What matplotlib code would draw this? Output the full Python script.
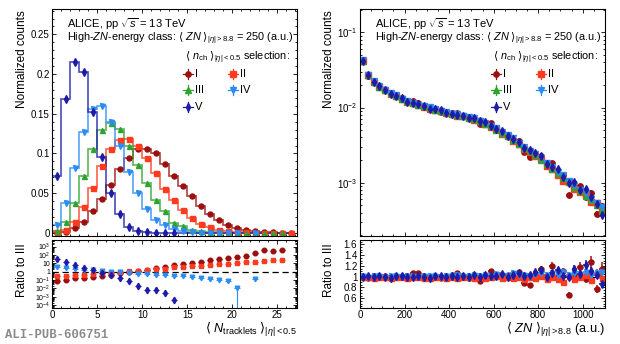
import numpy as np
import matplotlib
matplotlib.use("Agg")
import matplotlib.pyplot as plt
from matplotlib.ticker import MultipleLocator, FixedLocator, NullFormatter, LogLocator, FuncFormatter

plt.rcParams['font.family'] = ['Liberation Sans', 'DejaVu Sans']
plt.rcParams['mathtext.fontset'] = 'custom'
plt.rcParams['mathtext.rm'] = 'Liberation Sans'
plt.rcParams['mathtext.it'] = 'Liberation Sans:italic'
plt.rcParams['mathtext.bf'] = 'Liberation Sans:bold'
plt.rcParams['mathtext.sf'] = 'DejaVu Sans'

# ---------------- DATA: tracklet multiplicity (1 unit bins, 0..27) ----------------
mult_I = [0.0002, 0.0015, 0.006, 0.014, 0.027, 0.043, 0.060, 0.080, 0.094, 0.106,
          0.105, 0.100, 0.087, 0.072, 0.059, 0.046, 0.034, 0.0235, 0.0163, 0.010,
          0.0062, 0.0036, 0.002, 0.0011, 0.0006, 0.00035, 0.0002]
mult_II = [0.0007, 0.004, 0.014, 0.032, 0.056, 0.084, 0.105, 0.117, 0.118, 0.110,
           0.094, 0.075, 0.055, 0.041, 0.029, 0.0184, 0.0115, 0.0068, 0.0041, 0.00214,
           0.00115, 0.00058, 0.00021, 0.00006, 0.000049, 0.000028, 0.00002]
mult_III = [0.0025, 0.0135, 0.038, 0.072, 0.106, 0.130, 0.138, 0.131, 0.110, 0.086,
            0.063, 0.041, 0.027, 0.013, 0.008, 0.004, 0.00215, 0.00105, 0.00053, 0.00023,
            0.000103, 0.000043, 0.000013, 0.0000031, 0.0000021, 0.000001, 0.0]
mult_IV = [0.010, 0.037, 0.082, 0.127, 0.156, 0.160, 0.139, 0.109, 0.077, 0.050,
           0.030, 0.0165, 0.0095, 0.0042, 0.0022, 0.0009, 0.00038, 0.000148, 0.000059, 0.000018,
           0.000001, 0.0, 0.0000016, 0.0, 0.0, 0.0, 0.0]
mult_V = [0.072, 0.169, 0.215, 0.203, 0.152, 0.096, 0.050, 0.0235, 0.0075, 0.0018,
          0.00045, 0.00023, 0.00008, 0.000005, 0.0, 0.0, 0.0, 0.0, 0.0, 0.0,
          0.0, 0.0, 0.0, 0.0, 0.0, 0.0, 0.0]

# ---------------- DATA: ZN energy (25 a.u. bins, 0..1100) ----------------
zn_III = [0.042, 0.027, 0.022, 0.019, 0.0172, 0.0155, 0.0142, 0.0130, 0.0121, 0.0114, 0.0109,
          0.0104, 0.0099, 0.0094, 0.0090, 0.0086, 0.0082, 0.0079, 0.0076, 0.0073, 0.0070, 0.0066,
          0.0061, 0.0056, 0.0051, 0.0046, 0.0042, 0.0037, 0.0033, 0.0029, 0.0026, 0.0023, 0.0020,
          0.00175, 0.00152, 0.00133, 0.00116, 0.00101, 0.00088, 0.00077, 0.00067, 0.00058, 0.00050, 0.00043]
zn_ratio_I = [1.00, 0.98, 1.01, 0.99, 1.01, 1.00, 0.99, 1.02, 1.01, 1.06, 1.07,
              1.02, 0.99, 1.00, 0.97, 1.01, 1.03, 1.07, 1.00, 0.98, 1.02, 0.92,
              0.99, 1.10, 1.03, 1.01, 1.04, 0.97, 1.08, 0.88, 0.85, 1.05, 1.14,
              1.02, 1.20, 0.99, 1.10, 0.67, 1.04, 1.18, 0.96, 1.27, 0.77, 1.15]
zn_ratio_II = [0.99, 1.00, 0.98, 1.00, 0.99, 0.98, 1.00, 0.99, 0.98, 1.00, 0.99,
               0.98, 0.97, 0.99, 1.00, 0.98, 0.99, 0.98, 1.00, 0.99, 0.97, 1.00,
               0.98, 0.99, 1.01, 0.97, 0.99, 0.98, 1.00, 0.96, 0.99, 0.97, 1.02,
               0.95, 1.00, 0.96, 0.90, 1.01, 0.95, 0.99, 1.03, 0.94, 1.06, 0.97]
zn_ratio_IV = [1.01, 1.00, 1.02, 1.01, 1.00, 1.01, 1.02, 1.00, 1.01, 1.02, 1.00,
               1.01, 1.02, 1.01, 1.00, 1.02, 1.01, 1.03, 1.01, 1.02, 1.04, 1.01,
               1.03, 1.02, 1.05, 1.03, 1.02, 1.06, 1.03, 1.04, 1.02, 1.05, 1.07,
               1.03, 1.06, 1.04, 1.08, 1.03, 1.06, 1.05, 1.08, 1.04, 1.07, 1.09]
zn_ratio_V = [1.00, 1.01, 0.99, 1.01, 1.00, 0.98, 1.01, 1.02, 0.99, 1.00, 1.02,
              1.00, 0.98, 1.01, 1.02, 0.99, 1.01, 1.00, 1.02, 0.99, 1.03, 1.00,
              1.04, 1.01, 1.02, 1.05, 0.99, 1.03, 1.07, 1.01, 1.04, 1.08, 1.12,
              1.00, 1.06, 1.13, 1.02, 0.99, 1.15, 1.05, 1.22, 1.10, 1.04, 0.86]

labels = ["I", "II", "III", "IV", "V"]
colors = ["#9b0f0f", "#ff3b1f", "#2fa32f", "#2b8cf5", "#1c1ca8"]
markers = ["o", "s", "^", "v", "d"]
zn_relerr = [0.009, 0.006, 0.005, 0.006, 0.007]

TICK_FS = 7
LAB_FS = 8.5
W, H = 620, 344
# angle brackets drawn from DejaVu Sans (Liberation Sans has none)
LA = "$\\mathsf{\u27e8}$"
RA = "$\\mathsf{\u27e9}$"


def box(x0, y_top, x1, y_bot):
    return [x0 / W, 1 - y_bot / H, (x1 - x0) / W, (y_bot - y_top) / H]


def style(ax):
    ax.tick_params(which='both', direction='in', top=True, right=True,
                   labelsize=TICK_FS, width=0.6, pad=2)
    ax.tick_params(which='major', length=3.2)
    ax.tick_params(which='minor', length=1.7)
    for s in ax.spines.values():
        s.set_linewidth(0.8)


def legend_entry(ax, x, y, col, mk, lab):
    dx, dy = 0.02, 0.022
    ax.plot([x - dx, x + dx], [y, y], color=col, lw=0.9, transform=ax.transAxes)
    ax.plot([x, x], [y - dy, y + dy], color=col, lw=0.9, transform=ax.transAxes)
    ax.plot([x], [y], marker=mk, color=col, ms=3.8, transform=ax.transAxes)
    ax.text(x + 0.03, y, lab, transform=ax.transAxes, fontsize=8, va='center', ha='left')


def header(ax):
    ax.text(0.06, 0.934, r"ALICE, pp $\sqrt{s}$ = 13 TeV", transform=ax.transAxes,
            fontsize=8, va='center', ha='left')
    ax.text(0.06, 0.868, "High-$ZN$-energy class: " + LA + " $ZN$ " + RA + r"$_{|\eta|>8.8}$ = 250 (a.u.)",
            transform=ax.transAxes, fontsize=7.8, va='center', ha='left')
    ax.text(0.542, 0.784, LA + r" $n_{\rm ch}$ " + RA + r"$_{|\eta|<0.5}$ selection:",
            transform=ax.transAxes, fontsize=7.8, va='center', ha='left')
    pos = [(0.555, 0.714), (0.738, 0.714), (0.555, 0.643), (0.738, 0.643), (0.555, 0.568)]
    for (x, y), c, m, l in zip(pos, colors, markers, labels):
        legend_entry(ax, x, y, c, m, l)


fig = plt.figure(figsize=(W / 100, H / 100), dpi=100)
ax1 = fig.add_axes(box(52.3, 9, 297, 236))
ax1r = fig.add_axes(box(52.3, 240, 297, 308))
ax2 = fig.add_axes(box(360, 9, 605, 236))
ax2r = fig.add_axes(box(360, 240, 605, 308))

# ---------------- LEFT: multiplicity ----------------
mult = [mult_I, mult_II, mult_III, mult_IV, mult_V]
edges = np.arange(len(mult_III) + 1)
centers = edges[:-1] + 0.5
for vals, c, m in zip(mult, colors, markers):
    v = np.array(vals)
    ax1.stairs(v, edges, baseline=0, color=c, lw=1.2, alpha=0.8)
    ok = v > 0
    ax1.errorbar(centers[ok], v[ok], yerr=0.0025, fmt=m, color=c, ms=3.6,
                 elinewidth=0.8, capsize=0)
ax1.set_xlim(0, 27.2)
ax1.set_ylim(-0.004, 0.282)
ax1.xaxis.set_major_locator(MultipleLocator(5))
ax1.xaxis.set_minor_locator(MultipleLocator(1))
ax1.yaxis.set_major_locator(MultipleLocator(0.05))
ax1.yaxis.set_minor_locator(MultipleLocator(0.01))
ax1.yaxis.set_major_formatter(FuncFormatter(lambda v, p: f"{v:g}"))
ax1.xaxis.set_major_formatter(NullFormatter())
style(ax1)
header(ax1)

den = np.array(mult_III)
ax1r.axhline(1, color='black', lw=0.9, ls=(0, (5, 3)))
for idx in [0, 1, 3, 4]:
    v = np.array(mult[idx])
    ok = (v > 0) & (den > 0)
    r = v[ok] / den[ok]
    lo = r * 0.2
    hi = r * 0.2
    if idx == 3:
        k = np.where(centers[ok] == 20.5)[0]
        lo[k] = r[k] * 0.99999
    ax1r.errorbar(centers[ok], r, yerr=[lo, hi], xerr=0.35, fmt=markers[idx], color=colors[idx],
                  ms=3.3, elinewidth=0.8, capsize=0)
ax1r.set_yscale('log')
ax1r.set_xlim(0, 27.2)
ax1r.set_ylim(10 ** -4.35, 10 ** 3.78)
ax1r.yaxis.set_major_locator(FixedLocator([1e-4, 1e-3, 1e-2, 1e-1, 1, 10, 100, 1000]))
ax1r.yaxis.set_major_formatter(FuncFormatter(
    lambda v, p: {1: "1", 10: "10"}.get(round(v, 6), r"$10^{%d}$" % round(np.log10(v)))))
ax1r.yaxis.set_minor_locator(LogLocator(base=10, subs=np.arange(2, 10) * 1.0, numticks=20))
ax1r.yaxis.set_minor_formatter(NullFormatter())
ax1r.xaxis.set_major_locator(MultipleLocator(5))
ax1r.xaxis.set_minor_locator(MultipleLocator(1))
style(ax1r)
ax1r.tick_params(axis='y', labelsize=5.0, pad=1.5)
ax1r.tick_params(axis='x', pad=1.5)

# ---------------- RIGHT: ZN ----------------
zn_edges = np.arange(0, 1101, 25)
zn_x = zn_edges[:-1] + 12.5
base = np.array(zn_III)
zn_ratios = [np.array(zn_ratio_I), np.array(zn_ratio_II), np.ones(len(zn_III)),
             np.array(zn_ratio_IV), np.array(zn_ratio_V)]
scale = np.sqrt(base[0] / base)
for i in range(5):
    v = base * zn_ratios[i]
    ax2.errorbar(zn_x, v, yerr=v * zn_relerr[i] * scale, xerr=12.5, fmt=markers[i],
                 color=colors[i], ms=3.9, elinewidth=1.2, capsize=0)
ax2.set_yscale('log')
ax2.set_xlim(0, 1100)
ax2.set_ylim(1.95e-4, 0.205)
ax2.yaxis.set_major_locator(FixedLocator([1e-3, 1e-2, 1e-1]))
ax2.yaxis.set_major_formatter(FuncFormatter(lambda v, p: r"$10^{%d}$" % round(np.log10(v))))
ax2.yaxis.set_minor_locator(LogLocator(base=10, subs=np.arange(2, 10) * 1.0, numticks=20))
ax2.yaxis.set_minor_formatter(NullFormatter())
ax2.xaxis.set_major_locator(MultipleLocator(200))
ax2.xaxis.set_minor_locator(MultipleLocator(50))
ax2.xaxis.set_major_formatter(NullFormatter())
style(ax2)
header(ax2)

ax2r.axhline(1, color='black', lw=0.9, ls=(0, (5, 3)))
for i in [0, 1, 3, 4]:
    r = zn_ratios[i]
    err = r * np.sqrt(zn_relerr[i] ** 2 + zn_relerr[2] ** 2) * scale
    ax2r.errorbar(zn_x, r, yerr=err, xerr=12.5, fmt=markers[i], color=colors[i],
                  ms=3.6, elinewidth=1.1, capsize=0)
ax2r.set_xlim(0, 1100)
ax2r.set_ylim(0.42, 1.68)
ax2r.yaxis.set_major_locator(MultipleLocator(0.2))
ax2r.yaxis.set_minor_locator(MultipleLocator(0.05))
ax2r.yaxis.set_major_formatter(FuncFormatter(lambda v, p: f"{v:g}"))
ax2r.xaxis.set_major_locator(MultipleLocator(200))
ax2r.xaxis.set_minor_locator(MultipleLocator(50))
style(ax2r)
ax2r.tick_params(axis='x', pad=1.5)

# ---------------- LABELS ----------------
for xc in (22, 329):
    fig.text(xc / W, 1 - 10 / H, "Normalized counts", rotation=90, ha='center', va='top',
             fontsize=LAB_FS)
    fig.text(xc / W, 1 - 243 / H, "Ratio to III", rotation=90, ha='center', va='top',
             fontsize=LAB_FS)
fig.text(297 / W, 1 - 333 / H, LA + r" $N_{\rm tracklets}$ " + RA + r"$_{|\eta|<0.5}$",
         ha='right', va='baseline', fontsize=9.2)
fig.text(605 / W, 1 - 333 / H, LA + " $ZN$ " + RA + r"$_{|\eta|>8.8}$ (a.u.)",
         ha='right', va='baseline', fontsize=9.2)
fig.text(5 / W, 1 - 335 / H, "ALI-PUB-606751", family=['Liberation Mono', 'DejaVu Sans Mono'],
         weight='bold', color='#8a8a8a', fontsize=8.8, ha='left', va='center')

fig.savefig("out.png", dpi=100)
